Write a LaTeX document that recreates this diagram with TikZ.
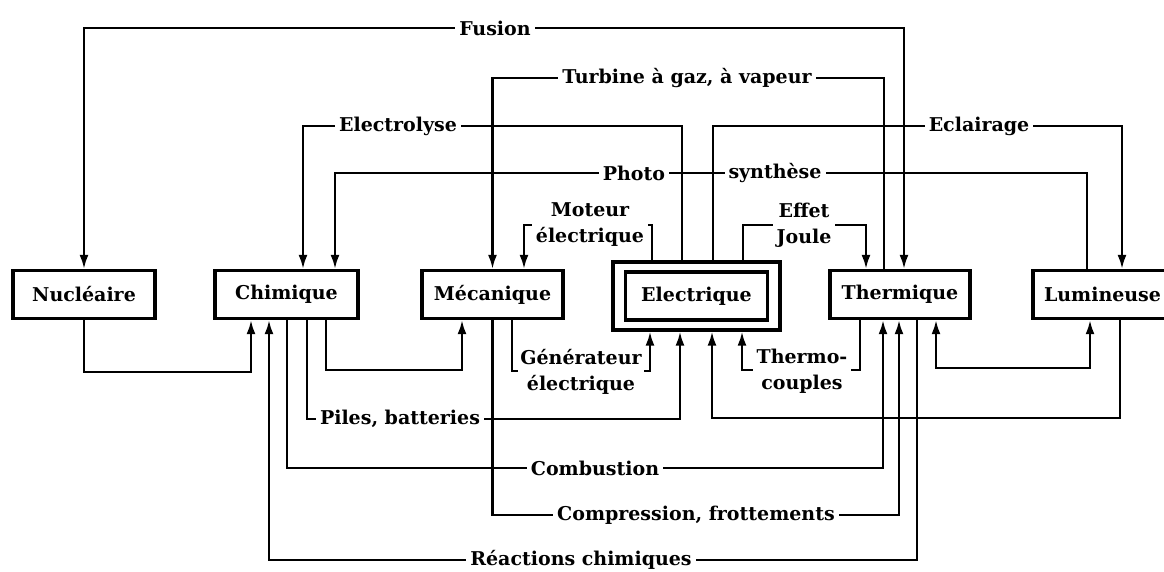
\documentclass[tikz,border=0pt]{standalone}
\usepackage{fontspec}
\setmainfont{DejaVu Serif}
\usetikzlibrary{arrows.meta}
\begin{document}
\begin{tikzpicture}[x=1pt,y=-1pt,
  font=\fontsize{19}{26}\selectfont\bfseries,
  >={Latex[length=14pt,width=9pt]},
  box/.style={draw, line width=3.4pt, minimum height=48pt, inner sep=0pt},
  wire/.style={line width=2.2pt},
  lbl/.style={fill=white, inner sep=4pt, align=center}]
\useasboundingbox (0,0) rectangle (1164,571);
% boxes
\node[box, minimum width=142pt] (nuc) at (84,294.5) {Nucléaire};
\node[box, minimum width=143pt] (chi) at (286.5,294.5) {Chimique};
\node[box, minimum width=141pt] (mec) at (492.5,294.5) {Mécanique};
\node[box, minimum width=167pt, minimum height=68pt] (ele) at (696.5,296) {};
\node[box, minimum width=142pt] (elei) at (696.5,296) {Electrique};
\node[box, minimum width=140pt] (the) at (900,294.5) {Thermique};
\node[box, minimum width=139pt] (lum) at (1102.5,294.5) {Lumineuse};
% top connectors
\draw[wire,<->] (nuc.north) |- (495,28) -| ([xshift=4pt]the.north);
\draw[wire,->] ([xshift=-16pt]the.north) |- (687,78) -| (mec.north);
\draw[wire,->] ([xshift=-14.5pt]ele.north) |- (398,126) -| ([xshift=16.5pt]chi.north);
\draw[wire,->] ([xshift=16.5pt]ele.north) |- (979,126) -| ([xshift=19.5pt]lum.north);
\draw[wire,->] ([xshift=-15.5pt]lum.north) |- (700,173) -| ([xshift=48.5pt]chi.north);
\draw[wire,->] ([xshift=-44.5pt]ele.north) |- (590,225) -| ([xshift=31.5pt]mec.north);
\draw[wire,->] ([xshift=46.5pt]ele.north) |- (804,225) -| ([xshift=-34pt]the.north);
% bottom connectors
\draw[wire,->] (nuc.south) |- (170,372) -| ([xshift=-35.5pt]chi.south);
\draw[wire,->] ([xshift=17pt]the.south) |- (581,560) -| ([xshift=-17.5pt]chi.south);
\draw[wire,->] ([xshift=0.5pt]chi.south) |- (595,468) -| ([xshift=-17pt]the.south);
\draw[wire,->] ([xshift=20.5pt]chi.south) |- (400,419) -| ([xshift=-16.5pt]ele.south);
\draw[wire,->] ([xshift=39.5pt]chi.south) |- (400,370) -| ([xshift=-30.5pt]mec.south);
\draw[wire,->] ([xshift=19.5pt]mec.south) |- (581,371) -| ([xshift=-46.5pt]ele.south);
\draw[wire,->] (mec.south) |- (696,515) -| ([xshift=-1pt]the.south);
\draw[wire,->] ([xshift=-40pt]the.south) |- (802,370) -| ([xshift=45.5pt]ele.south);
\draw[wire,->] ([xshift=17.5pt]lum.south) |- (900,418) -| ([xshift=15.5pt]ele.south);
\draw[wire,<->] ([xshift=36pt]the.south) |- (1000,368) -| ([xshift=-12.5pt]lum.south);
% labels
\node[lbl] at (495,28) {Fusion};
\node[lbl] at (687,78) {Turbine à gaz, à vapeur};
\node[lbl] at (398,126) {Electrolyse};
\node[lbl] at (979,126) {Eclairage};
\node[lbl] at (634,173) {Photo};
\node[lbl] at (775,173) {synthèse};
\node[lbl] at (590,225) {Moteur\\électrique};
\node[lbl] at (804,225) {Effet\\Joule};
\node[lbl, inner sep=2pt] at (581,372) {Générateur\\électrique};
\node[lbl] at (802,371) {Thermo-\\couples};
\node[lbl] at (400,419) {Piles, batteries};
\node[lbl] at (595,468) {Combustion};
\node[lbl] at (696,515) {Compression, frottements};
\node[lbl] at (581,560) {Réactions chimiques};
\end{tikzpicture}
\end{document}
